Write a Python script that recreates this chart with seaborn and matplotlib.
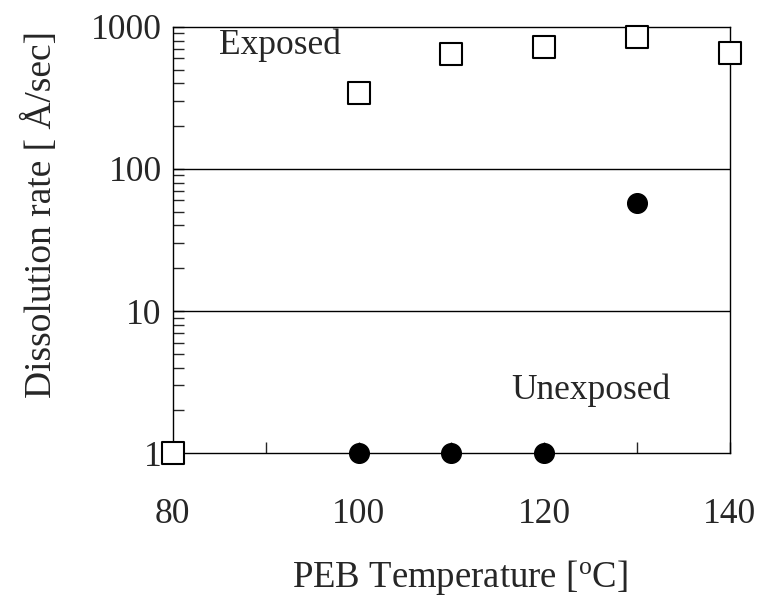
import matplotlib
matplotlib.use("Agg")
import matplotlib.pyplot as plt
import seaborn as sns
import pandas as pd
import numpy as np
from matplotlib.ticker import LogLocator, FixedLocator, NullFormatter

temps_exposed = [80, 100, 110, 120, 130, 140]
rate_exposed = [1, 345, 645, 725, 855, 650]
temps_unexposed = [100, 110, 120, 130]
rate_unexposed = [1, 1, 1, 58]
xticks = [80, 100, 120, 140]
yticks = [1, 10, 100, 1000]

sns.set_style("ticks")
plt.rcParams['font.family'] = ['Liberation Serif', 'DejaVu Serif']
plt.rcParams['mathtext.fontset'] = 'custom'
plt.rcParams['mathtext.rm'] = 'Liberation Serif'
plt.rcParams['mathtext.it'] = 'Liberation Serif:italic'

fig = plt.figure(figsize=(7.58, 5.97), dpi=100)
ax = fig.add_axes([0.228, 0.241, 0.735, 0.714])

df_e = pd.DataFrame({"T": temps_exposed, "R": rate_exposed})
df_u = pd.DataFrame({"T": temps_unexposed, "R": rate_unexposed})

sns.scatterplot(data=df_u, x="T", y="R", ax=ax, marker="o", s=200,
                color="black", edgecolor="black", linewidth=1, zorder=5, clip_on=False)
sns.scatterplot(data=df_e, x="T", y="R", ax=ax, marker="s", s=250,
                facecolor="white", edgecolor="black", linewidth=1.5, zorder=6, clip_on=False)

ax.set_yscale("log")
ax.set_xlim(80, 140)
ax.set_ylim(1, 1000)
ax.set_xticks(xticks)
ax.set_xticklabels([str(v) for v in xticks])
ax.xaxis.set_minor_locator(FixedLocator([90, 110, 130]))
ax.set_yticks(yticks)
ax.set_yticklabels([str(v) for v in yticks])
ax.yaxis.set_minor_locator(LogLocator(base=10, subs=np.arange(2, 10)))
ax.yaxis.set_minor_formatter(NullFormatter())

for v in [10, 100]:
    ax.axhline(v, color="black", linewidth=1.0, zorder=1)

ax.tick_params(axis="both", which="major", direction="in", length=8, width=1,
               labelsize=25.5)
ax.tick_params(axis="x", which="major", pad=32)
ax.tick_params(axis="y", which="major", pad=8)
ax.tick_params(axis="both", which="minor", direction="in", length=8, width=1)
ax.tick_params(axis="y", which="both", right=False)
ax.tick_params(axis="x", which="both", top=False)

for s in ax.spines.values():
    s.set_visible(True)
    s.set_linewidth(1.0)
    s.set_color("black")

ax.set_xlabel("PEB Temperature [$^\\mathrm{o}$C]", fontsize=26.5, va="top")
ax.xaxis.set_label_coords(0.515, -0.245)
ax.set_ylabel("Dissolution rate [ Å/sec]", fontsize=27)
ax.yaxis.set_label_coords(-0.205, 0.56)

ax.text(91.5, 747, "Exposed", fontsize=25.5, ha="center", va="center")
ax.text(125, 2.78, "Unexposed", fontsize=25.5, ha="center", va="center")

fig.savefig("out.png", dpi=100)
